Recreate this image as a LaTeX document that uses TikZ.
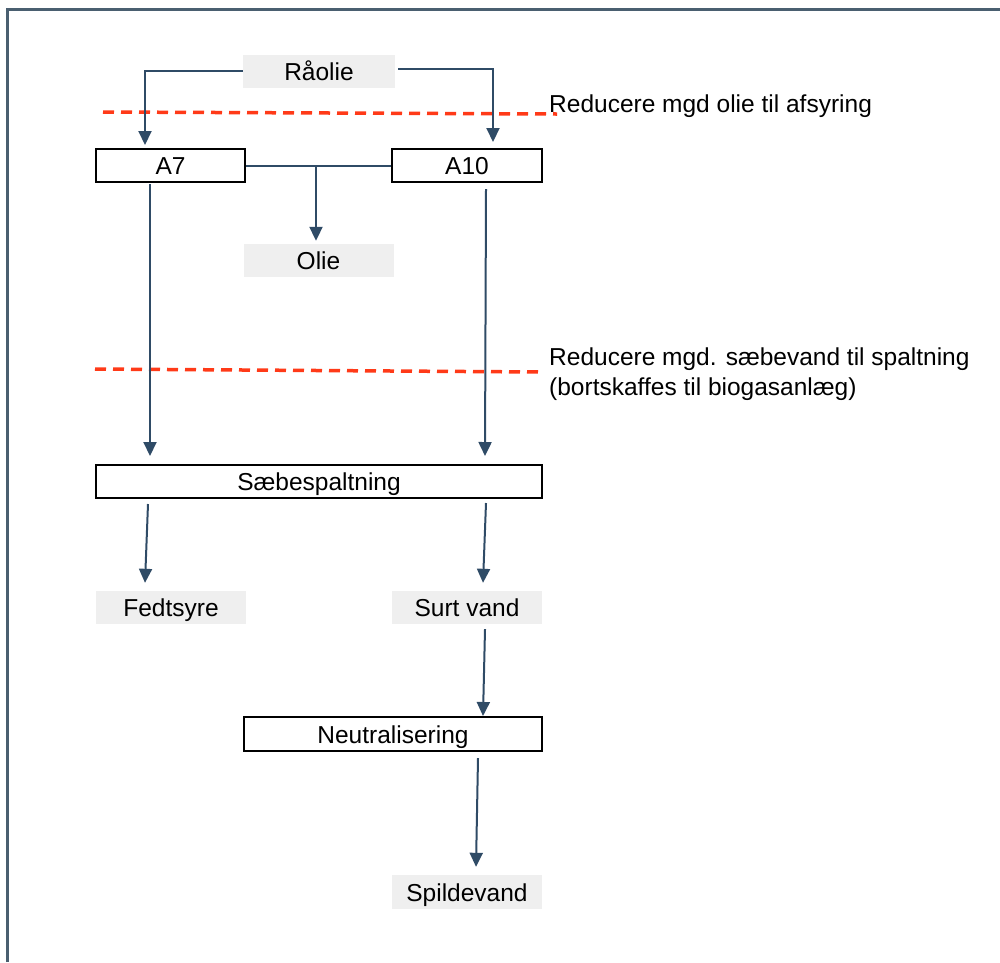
\documentclass[tikz,border=0pt]{standalone}
\usepackage{fontspec}
\setmainfont{Liberation Sans}
\usetikzlibrary{arrows.meta}
\definecolor{conn}{HTML}{2F4B66}
\definecolor{frame}{HTML}{4A5F70}
\definecolor{boxgray}{HTML}{EFEFEF}
\definecolor{redline}{HTML}{FF3A18}
\begin{document}
\begin{tikzpicture}[x=1pt,y=-1pt,
  every node/.style={font=\fontsize{24.5}{30}\selectfont, inner sep=0pt, text=black},
  boxtext/.style={text height=18pt, text depth=0pt},
  procbox/.style={boxtext, draw=black, line width=2pt, fill=white, minimum height=33pt},
  graybox/.style={boxtext, fill=boxgray, minimum height=33pt, minimum width=150pt},
  conline/.style={draw=conn, line width=2pt},
  arr/.style={conline, -{Triangle[width=13pt,length=14pt]}},
  redcut/.style={draw=redline, line width=3.5pt, dash pattern=on 11pt off 7pt},
  note/.style={anchor=base west, align=left}]
\useasboundingbox (0,0) rectangle (1000,962);
% frame
\draw[frame, line width=2.5pt] (7.5,962) -- (7.5,9.5) -- (1000,9.5);

% nodes
\node[graybox, minimum width=152pt] (raolie) at (319,71) {Råolie};
\node[procbox, minimum width=149pt] (a7) at (170.5,165.5) {A7};
\node[procbox, minimum width=150pt] (a10) at (467,165.5) {A10};
\node[graybox] (olie) at (318.5,260.5) {Olie};
\node[procbox, minimum width=446pt] (sb) at (319,481.5) {Sæbespaltning};
\node[graybox] (fed) at (171,607.5) {Fedtsyre};
\node[graybox] (surt) at (467,607.5) {Surt vand};
\node[procbox, minimum width=298pt, minimum height=34pt] (neut) at (393,734) {Neutralisering};
\node[graybox, minimum height=34pt] (spild) at (467,892) {Spildevand};

% red cut lines and notes
\coordinate (r1a) at (103,112);
\coordinate (r1b) at (557,114);
\draw[redcut] (r1a) -- (r1b);
\node[note] (n1) at (549,112) {Reducere mgd olie til afsyring};
\coordinate (r2a) at (95,369);
\coordinate (r2b) at (540,372);
\draw[redcut] (r2a) -- (r2b);
\node[note] (n2) at (549,395) {Reducere mgd. sæbevand til spaltning\\(bortskaffes til biogasanlæg)};

% connectors
\draw[arr] (raolie.west) -| ([xshift=-25.5pt,yshift=3pt]a7.north);
\draw[arr] ([xshift=3pt,yshift=2pt]raolie.east) -| ([xshift=26pt,yshift=6pt]a10.north);
\draw[conline] (a7.east) -- (a10.west);
\coordinate (j) at (316,165.5);
\draw[arr] (j) -- ([xshift=-2.5pt,yshift=3pt]olie.north);
\draw[arr] ([xshift=-20.5pt,yshift=-1pt]a7.south) -- ([xshift=-169pt,yshift=8pt]sb.north);
\draw[arr] ([xshift=19pt,yshift=-6pt]a10.south) -- ([xshift=166pt,yshift=8pt]sb.north);
\draw[arr] ([xshift=-171pt,yshift=-5pt]sb.south) -- ([xshift=-26pt,yshift=8pt]fed.north);
\draw[arr] ([xshift=167pt,yshift=-4pt]sb.south) -- ([xshift=16pt,yshift=8pt]surt.north);
\draw[arr] ([xshift=18pt,yshift=-5pt]surt.south) -- ([xshift=90pt,yshift=0pt]neut.north);
\draw[arr] ([xshift=85pt,yshift=-6pt]neut.south) -- ([xshift=9pt,yshift=8pt]spild.north);
\end{tikzpicture}
\end{document}
